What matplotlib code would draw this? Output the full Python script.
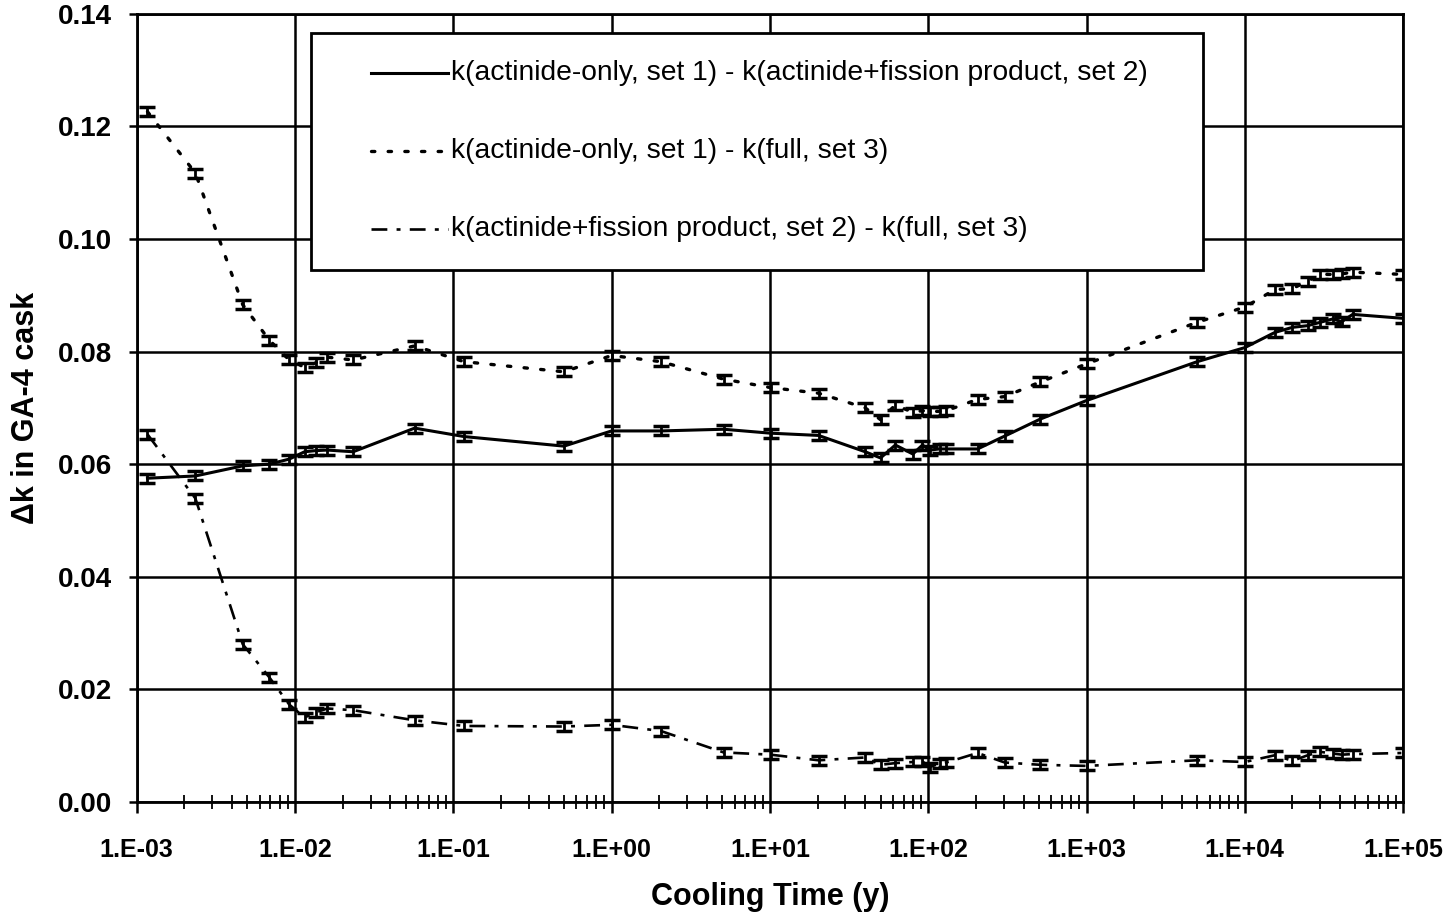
# ── 1. Import Libraries ──────────────────────────────────────────────────────
import numpy as np
import matplotlib
matplotlib.use('Agg')
import matplotlib.pyplot as plt
from matplotlib.ticker import FixedLocator, FuncFormatter, LogLocator, NullFormatter
from matplotlib.lines import Line2D
from matplotlib.patches import Rectangle

plt.rcParams.update({
    'font.family': ['Liberation Sans', 'DejaVu Sans'],
    'axes.linewidth': 2.0,
    'figure.facecolor': 'white',
})

# ── 2. Data ──────────────────────────────────────────────────────────────────
cooling_time = [1.17e-3, 2.35e-3, 4.68e-3, 6.9e-3, 9.2e-3, 0.0115, 0.0135, 0.016,
                0.0233, 0.057, 0.117, 0.50, 1.0, 2.05, 5.1, 10.1, 20.3, 40, 50,
                62, 80, 92, 102, 118, 130, 205, 305, 510, 1000, 5000, 1.0e4,
                1.55e4, 2.0e4, 2.5e4, 3.0e4, 3.6e4, 4.1e4, 4.8e4, 1.0e5]

dk_set1_set2 = [0.0575, 0.0579, 0.0597, 0.0600, 0.0609, 0.0622, 0.0624, 0.0625,
                0.0622, 0.0664, 0.0649, 0.0632, 0.0659, 0.0659, 0.0662, 0.0655,
                0.0651, 0.0622, 0.0611, 0.0634, 0.0618, 0.0634, 0.0625, 0.0627,
                0.0627, 0.0627, 0.0650, 0.0680, 0.0713, 0.0782, 0.0807, 0.0834,
                0.0843, 0.0846, 0.0852, 0.0858, 0.0853, 0.0866, 0.0859]

dk_set1_set3 = [0.1226, 0.1117, 0.0883, 0.0820, 0.0785, 0.0772, 0.0780, 0.0790,
                0.0785, 0.0810, 0.0782, 0.0764, 0.0793, 0.0782, 0.0751, 0.0736,
                0.0726, 0.0700, 0.0679, 0.0705, 0.0692, 0.0695, 0.0693, 0.0694,
                0.0695, 0.0715, 0.0720, 0.0746, 0.0778, 0.0852, 0.0879, 0.0910,
                0.0912, 0.0925, 0.0937, 0.0937, 0.0938, 0.0941, 0.0937]

dk_set2_set3 = [0.0653, 0.0539, 0.0280, 0.0221, 0.0173, 0.0150, 0.0159, 0.0166,
                0.0163, 0.0145, 0.0135, 0.0134, 0.0137, 0.0126, 0.0088, 0.0084,
                0.0074, 0.0079, 0.0066, 0.0069, 0.0071, 0.0072, 0.0062, 0.0068,
                0.0070, 0.0087, 0.0070, 0.0066, 0.0064, 0.0074, 0.0071, 0.0083,
                0.0073, 0.0083, 0.0089, 0.0086, 0.0084, 0.0085, 0.0087]

dk_sigma = 0.0008

labels = ['k(actinide-only, set 1) - k(actinide+fission product, set 2)',
          'k(actinide-only, set 1) - k(full, set 3)',
          'k(actinide+fission product, set 2) - k(full, set 3)']

# ── 3. Plot ──────────────────────────────────────────────────────────────────
styles = [dict(linestyle='-', linewidth=2.2),
          dict(linestyle=(0, (1, 4)), linewidth=2.4, dash_capstyle='round'),
          dict(linestyle=(0, (6, 3.5, 1.5, 3.5)), linewidth=1.9)]

fig = plt.figure(figsize=(14.54, 9.16), dpi=100)
ax = fig.add_axes([0.094, 0.1245, 0.871, 0.8605])

for series, st in zip([dk_set1_set2, dk_set1_set3, dk_set2_set3], styles):
    ax.plot(cooling_time, series, color='black', zorder=3, **st)
    ax.errorbar(cooling_time, series, yerr=dk_sigma, fmt='none', ecolor='black',
                elinewidth=2.0, capsize=6, capthick=2.5, zorder=4)

ax.set_xscale('log')
ax.set_xlim(1e-3, 1e5)
ax.set_ylim(0, 0.14)

ax.xaxis.set_major_locator(FixedLocator([10.0 ** p for p in range(-3, 6)]))
ax.xaxis.set_major_formatter(FuncFormatter(lambda v, _: f"1.E{int(round(np.log10(v))):+03d}"))
ax.xaxis.set_minor_locator(LogLocator(base=10, subs=np.arange(2, 10), numticks=20))
ax.xaxis.set_minor_formatter(NullFormatter())
ax.set_yticks(np.arange(0, 0.141, 0.02))
ax.yaxis.set_major_formatter(FuncFormatter(lambda v, _: f"{v:.2f}"))

ax.grid(True, which='major', color='black', linewidth=1.8)
ax.tick_params(axis='x', which='major', direction='out', length=8, width=1.8, pad=18)
ax.tick_params(axis='x', which='minor', direction='inout', length=10, width=1.3)
ax.tick_params(axis='y', which='major', direction='out', length=6, width=1.8, pad=12)

for lab in ax.get_xticklabels():
    lab.set_fontsize(18)
    lab.set_fontweight('bold')
for lab in ax.get_yticklabels():
    lab.set_fontsize(20)
    lab.set_fontweight('bold')

ax.set_xlabel('Cooling Time (y)', fontsize=22, fontweight='bold', labelpad=14)
ax.set_ylabel('Δk in GA-4 cask', fontsize=22, fontweight='bold', labelpad=12)

# ── 4. Legend box (drawn in axes coordinates) ───────────────────────────────
box = Rectangle((0.138, 0.675), 0.704, 0.301, transform=ax.transAxes,
                facecolor='white', edgecolor='black', linewidth=2.0, zorder=6)
ax.add_patch(box)
leg_y = [0.925, 0.826, 0.727]
for yy, st, txt in zip(leg_y, styles, labels):
    ax.add_line(Line2D([0.185, 0.246], [yy, yy], color='black', transform=ax.transAxes,
                       zorder=7, **st))
    ax.text(0.248, yy, txt, transform=ax.transAxes, fontsize=20.3, va='center',
            ha='left', zorder=7)

plt.savefig('out.png', dpi=100)
